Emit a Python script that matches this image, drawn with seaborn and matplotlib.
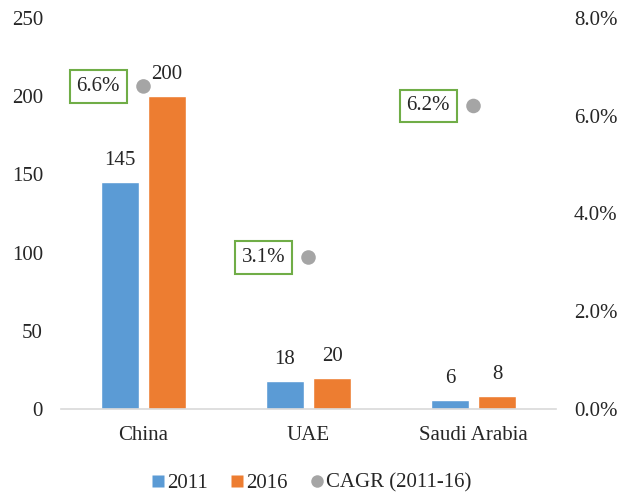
import numpy as np
import pandas as pd
import seaborn as sns
import matplotlib.pyplot as plt
from matplotlib.lines import Line2D
from matplotlib.ticker import PercentFormatter

# Values by market
categories = ["China", "UAE", "Saudi Arabia"]
years = ["2011", "2016"]
values_2011 = [145, 18, 6]
values_2016 = [200, 20, 8]
cagr = [0.066, 0.031, 0.062]
cagr_label = "CAGR (2011-16)"

left_ticks = [0, 50, 100, 150, 200, 250]
right_ticks = [0.0, 0.02, 0.04, 0.06, 0.08]

colors = {"2011": "#5B9BD5", "2016": "#ED7D31"}
dot_color = "#A5A5A5"
box_color = "#70AD47"

sns.set_style("white")
plt.rcParams["font.family"] = ["Liberation Serif", "DejaVu Serif"]
plt.rcParams["font.size"] = 15

df = pd.DataFrame({
    "market": categories * 2,
    "year": [years[0]] * len(categories) + [years[1]] * len(categories),
    "value": values_2011 + values_2016,
})

fig = plt.figure(figsize=(6.21, 4.97), dpi=100)
ax = fig.add_axes([61 / 621, 88 / 497, 495 / 621, 391 / 497])

sns.barplot(data=df, x="market", y="value", hue="year", order=categories,
            hue_order=years, palette=colors, width=0.57, gap=0.21,
            legend=False, ax=ax, saturation=1)

ax.set_xlim(-0.5, len(categories) - 0.5)
ax.set_ylim(0, 250)
ax.set_yticks(left_ticks)
ax.set_xlabel("")
ax.set_ylabel("")
ax.tick_params(axis="both", length=0, labelsize=15)
ax.tick_params(axis="y", pad=13)
ax.tick_params(axis="x", pad=12)
for side in ["top", "right", "left"]:
    ax.spines[side].set_visible(False)
ax.spines["bottom"].set_color("#D9D9D9")
ax.spines["bottom"].set_linewidth(1.2)

# Value labels above each bar
for container in ax.containers:
    for bar in container:
        h = bar.get_height()
        ax.annotate(f"{h:.0f}", (bar.get_x() + bar.get_width() / 2, h),
                    xytext=(0, 15.5), textcoords="offset points",
                    ha="center", va="center", fontsize=15)

# Growth rate on the secondary axis
ax2 = ax.twinx()
xpos = np.arange(len(categories))
sns.scatterplot(x=xpos, y=cagr, ax=ax2, color=dot_color, s=110,
                edgecolor="none", legend=False, zorder=3)
ax2.set_ylim(0, 0.08)
ax2.set_yticks(right_ticks)
ax2.yaxis.set_major_formatter(PercentFormatter(1.0, decimals=1))
ax2.tick_params(axis="y", length=0, pad=13, labelsize=15)
for side in ["top", "right", "left", "bottom"]:
    ax2.spines[side].set_visible(False)
ax2.set_xlim(ax.get_xlim())

for x, v in zip(xpos, cagr):
    ax2.annotate(f"{v * 100:.1f}%", (x, v), xytext=(-32.5, 0),
                 textcoords="offset points", ha="center", va="center",
                 fontsize=15,
                 bbox=dict(boxstyle="square,pad=0.33", fc="white",
                           ec=box_color, lw=1.5))

handles = [
    Line2D([], [], marker="s", linestyle="none", markersize=8,
           markerfacecolor=colors["2011"], markeredgecolor="none", label="2011"),
    Line2D([], [], marker="s", linestyle="none", markersize=8,
           markerfacecolor=colors["2016"], markeredgecolor="none", label="2016"),
    Line2D([], [], marker="o", linestyle="none", markersize=9,
           markerfacecolor=dot_color, markeredgecolor="none", label=cagr_label),
]
fig.legend(handles=handles, loc="center", bbox_to_anchor=(0.5, 14 / 497),
           ncol=3, frameon=False, fontsize=15, handletextpad=0.05,
           columnspacing=1.0, handlelength=0.8)

fig.savefig("out.png", dpi=100)
